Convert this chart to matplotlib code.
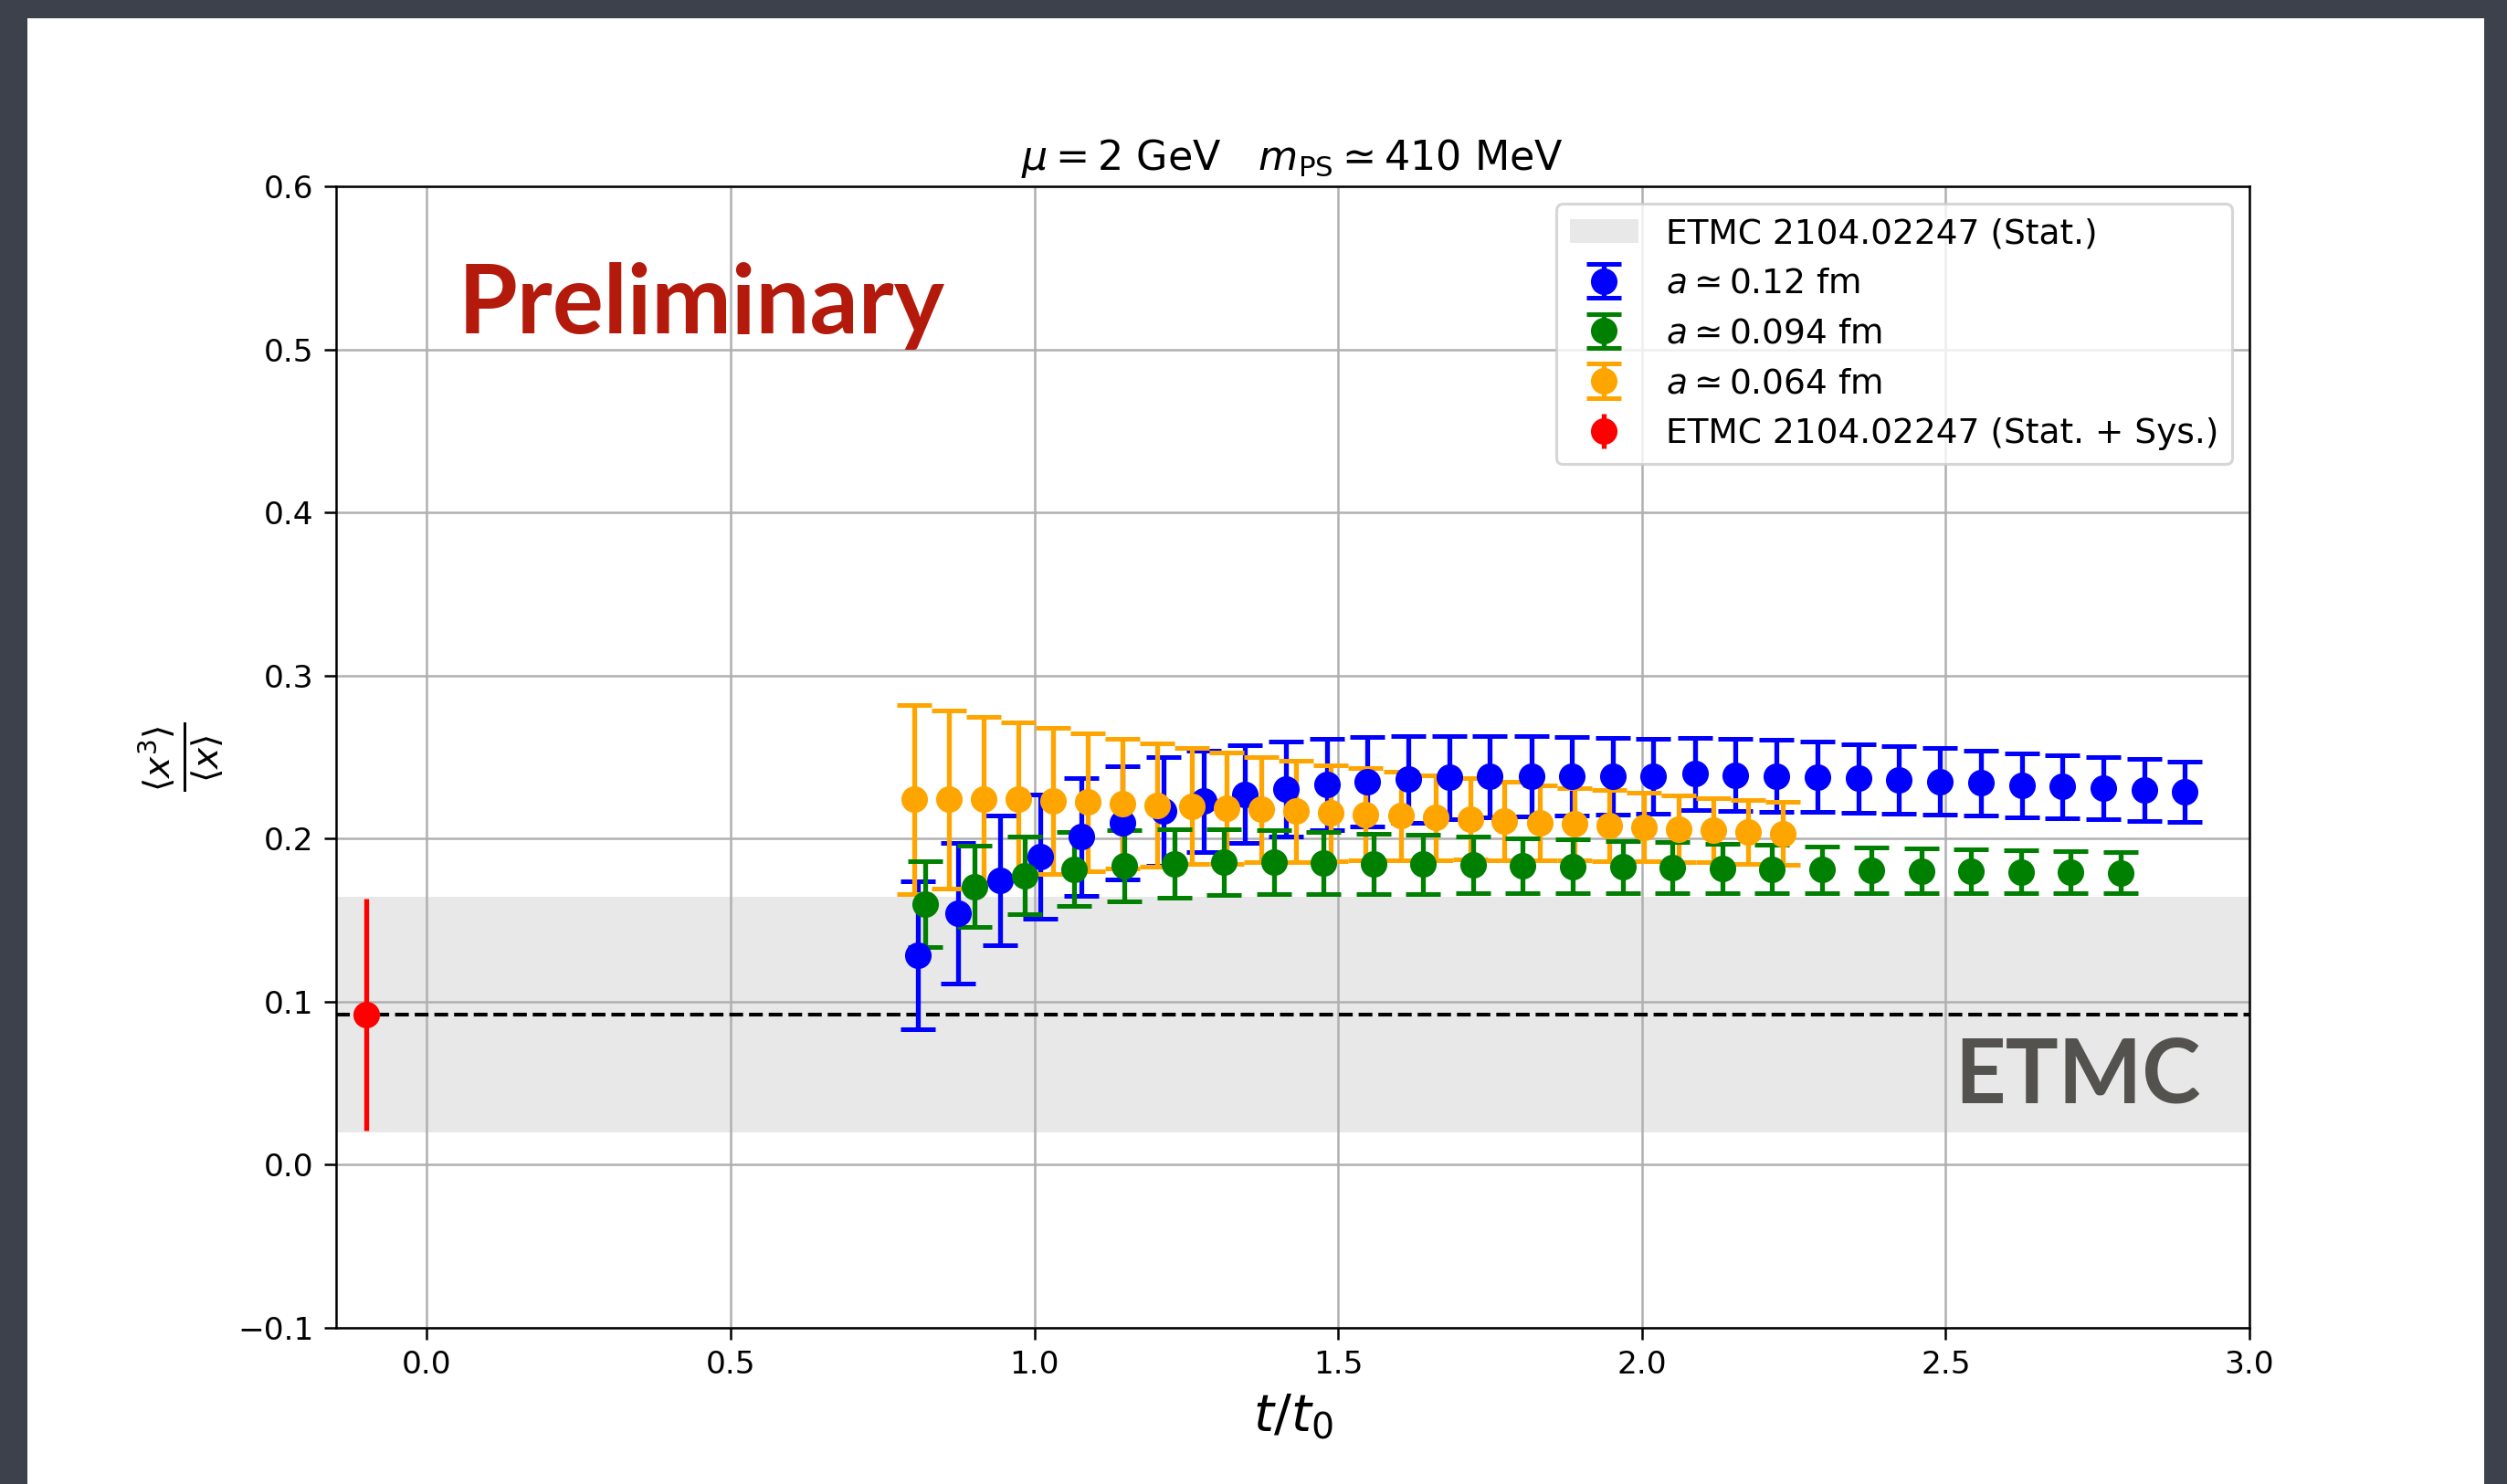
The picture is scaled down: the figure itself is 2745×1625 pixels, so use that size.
import numpy as np
from matplotlib import pyplot as plt
from matplotlib.patches import Patch, Rectangle

# <x^3>/<x> vs flow time, three lattice spacings
t_a012 = [0.808, 0.875, 0.943, 1.010, 1.077, 1.145, 1.212, 1.279, 1.346, 1.414,
          1.481, 1.548, 1.616, 1.683, 1.750, 1.818, 1.885, 1.952, 2.019, 2.087,
          2.154, 2.221, 2.289, 2.356, 2.423, 2.490, 2.558, 2.625, 2.692, 2.760,
          2.827, 2.894]
y_a012 = [0.1284, 0.1542, 0.1742, 0.1892, 0.2010, 0.2098, 0.2169, 0.2229, 0.2273, 0.2305,
          0.2331, 0.2348, 0.2363, 0.2374, 0.2380, 0.2382, 0.2382, 0.2382, 0.2382, 0.2397,
          0.2389, 0.2384, 0.2378, 0.2369, 0.2359, 0.2350, 0.2341, 0.2329, 0.2320, 0.2309,
          0.2298, 0.2287]
e_a012 = [0.0453, 0.0430, 0.0398, 0.0381, 0.0359, 0.0348, 0.0333, 0.0312, 0.0299, 0.0293,
          0.0280, 0.0275, 0.0267, 0.0256, 0.0250, 0.0245, 0.0241, 0.0234, 0.0228, 0.0222,
          0.0222, 0.0220, 0.0215, 0.0211, 0.0208, 0.0204, 0.0198, 0.0196, 0.0193, 0.0191,
          0.0189, 0.0183]

t_a0094 = [0.820, 0.902, 0.984, 1.066, 1.148, 1.230, 1.312, 1.394, 1.476, 1.558,
           1.640, 1.722, 1.804, 1.886, 1.968, 2.050, 2.132, 2.214, 2.296, 2.378,
           2.460, 2.542, 2.624, 2.706, 2.788]
y_a0094 = [0.1598, 0.1707, 0.1774, 0.1813, 0.1834, 0.1847, 0.1855, 0.1855, 0.1851, 0.1847,
           0.1843, 0.1840, 0.1834, 0.1830, 0.1825, 0.1821, 0.1817, 0.1813, 0.1810, 0.1806,
           0.1802, 0.1800, 0.1796, 0.1793, 0.1791]
e_a0094 = [0.0264, 0.0247, 0.0236, 0.0226, 0.0219, 0.0209, 0.0200, 0.0196, 0.0192, 0.0185,
           0.0181, 0.0174, 0.0170, 0.0164, 0.0161, 0.0157, 0.0153, 0.0148, 0.0142, 0.0138,
           0.0136, 0.0133, 0.0131, 0.0129, 0.0125]

t_a0064 = [0.802, 0.859, 0.916, 0.973, 1.030, 1.088, 1.145, 1.202, 1.259, 1.317,
           1.374, 1.431, 1.488, 1.545, 1.603, 1.660, 1.717, 1.774, 1.832, 1.889,
           1.946, 2.003, 2.060, 2.118, 2.175, 2.232]
y_a0064 = [0.2240, 0.2240, 0.2240, 0.2240, 0.2232, 0.2225, 0.2214, 0.2204, 0.2199, 0.2187,
           0.2178, 0.2167, 0.2157, 0.2148, 0.2139, 0.2129, 0.2120, 0.2109, 0.2099, 0.2090,
           0.2081, 0.2071, 0.2060, 0.2051, 0.2042, 0.2032]
e_a0064 = [0.0578, 0.0544, 0.0509, 0.0475, 0.0447, 0.0423, 0.0400, 0.0378, 0.0357, 0.0340,
           0.0324, 0.0310, 0.0295, 0.0282, 0.0271, 0.0260, 0.0249, 0.0241, 0.0230, 0.0222,
           0.0217, 0.0211, 0.0204, 0.0198, 0.0196, 0.0193]

# ETMC 2104.02247 reference value
etmc_t = -0.10
etmc_val = 0.092
etmc_stat = 0.072
etmc_tot = 0.071

W, H, DPI = 2745, 1625, 225
fig = plt.figure(figsize=(W / DPI, H / DPI), dpi=DPI)
fig.patch.set_facecolor('#3c414b')
# white slide area behind the plot
fig.patches.append(Rectangle((30 / W, 0), (2720 - 30) / W, 1 - 20 / H,
                             transform=fig.transFigure, facecolor='white',
                             edgecolor='none', zorder=-5))

ax = fig.add_axes([367.6 / W, 1 - 1453.7 / H, (2463 - 367.6) / W, (1453.7 - 204.3) / H])
ax.set_zorder(1)
ax.set_xlim(-0.15, 3.0)
ax.set_ylim(-0.1, 0.6)
ax.grid(True)

# band and central value
ax.axhspan(etmc_val - etmc_stat, etmc_val + etmc_stat, color='lightgray', alpha=0.5, lw=0)
ax.axhline(etmc_val, color='k', ls='--', lw=1.3)

eb_kw = dict(fmt='o', ms=8.3, lw=1.7, capsize=6, capthick=1.6)
eb_b = ax.errorbar(t_a012, y_a012, yerr=e_a012, color='blue', label=r'$a \simeq 0.12$ fm', **eb_kw)
eb_o = ax.errorbar(t_a0064, y_a0064, yerr=e_a0064, color='orange', label=r'$a \simeq 0.064$ fm', **eb_kw)
eb_g = ax.errorbar(t_a0094, y_a0094, yerr=e_a0094, color='green', label=r'$a \simeq 0.094$ fm', **eb_kw)
eb_r = ax.errorbar([etmc_t], [etmc_val], yerr=[etmc_tot], fmt='o', ms=8.3, lw=1.7,
                   color='red', label='ETMC 2104.02247 (Stat. + Sys.)')

band = Patch(facecolor='lightgray', alpha=0.5, label='ETMC 2104.02247 (Stat.)')
ax.legend(handles=[band, eb_b, eb_g, eb_o, eb_r], loc='upper right', fontsize=12)

ax.tick_params(labelsize=11, length=4.2)
ax.set_title(r'$\mu = 2$ GeV   $m_{\rm PS} \simeq 410$ MeV', fontsize=14.2)
ax.set_xlabel(r'$t/t_0$', fontsize=18)
ax.set_ylabel(r'$\frac{\langle x^3\rangle}{\langle x\rangle}$', fontsize=18)

# slide annotations
fig.text(502 / W, 1 - 365 / H, 'Preliminary', color='#b31a0c', fontsize=33.5,
         family='Lato', weight='bold', ha='left', va='baseline', zorder=5)
fig.text(2140 / W, 1 - 1208 / H, 'ETMC', color='#54524f', fontsize=31,
         family='Lato', weight='bold', ha='left', va='baseline', zorder=5)

fig.savefig('out.png', dpi=DPI, facecolor=fig.get_facecolor())
